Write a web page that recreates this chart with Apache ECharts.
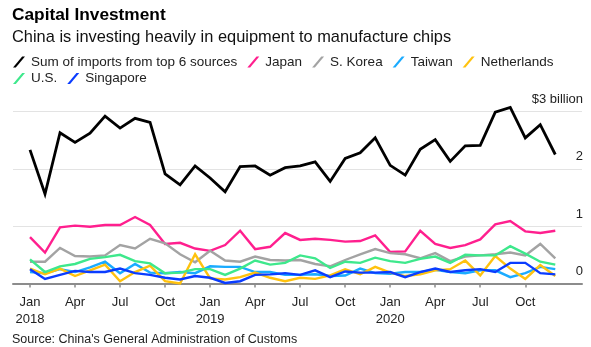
<!DOCTYPE html>
<html>
<head>
<meta charset="utf-8">
<script src="https://cdn.jsdelivr.net/npm/echarts@6/dist/echarts.min.js"></script>
<style>
html,body{margin:0;padding:0;background:#fff;}
#chart{width:591px;height:347px;}
</style>
</head>
<body>
<div id="chart"></div>
<script>
// Months Jan 2018 .. Dec 2020 (index 0..35)
const months = ['Jan 2018','Feb 2018','Mar 2018','Apr 2018','May 2018','Jun 2018','Jul 2018','Aug 2018','Sep 2018','Oct 2018','Nov 2018','Dec 2018',
  'Jan 2019','Feb 2019','Mar 2019','Apr 2019','May 2019','Jun 2019','Jul 2019','Aug 2019','Sep 2019','Oct 2019','Nov 2019','Dec 2019',
  'Jan 2020','Feb 2020','Mar 2020','Apr 2020','May 2020','Jun 2020','Jul 2020','Aug 2020','Sep 2020','Oct 2020','Nov 2020','Dec 2020'];

const total = [2.33,1.56,2.63,2.46,2.62,2.92,2.71,2.88,2.81,1.91,1.72,2.05,
  1.84,1.60,2.04,2.05,1.89,2.02,2.05,2.12,1.78,2.18,2.28,2.54,
  2.06,1.89,2.34,2.51,2.13,2.40,2.41,2.99,3.07,2.54,2.77,2.25];
const japan = [0.81,0.54,0.98,1.01,0.99,1.02,1.02,1.16,1.02,0.69,0.71,0.61,
  0.57,0.67,0.92,0.60,0.64,0.88,0.76,0.78,0.76,0.73,0.74,0.84,
  0.55,0.56,0.92,0.69,0.62,0.67,0.77,1.03,1.09,0.91,0.88,0.92];
const korea = [0.38,0.38,0.62,0.48,0.47,0.49,0.67,0.61,0.78,0.70,0.51,0.37,
  0.57,0.40,0.38,0.47,0.41,0.40,0.41,0.34,0.30,0.41,0.51,0.60,
  0.53,0.51,0.44,0.53,0.39,0.47,0.49,0.51,0.54,0.49,0.69,0.44];
const taiwan = [0.20,0.18,0.25,0.20,0.28,0.38,0.18,0.34,0.19,0.18,0.20,0.18,
  0.30,0.29,0.29,0.20,0.20,0.15,0.15,0.16,0.13,0.14,0.26,0.18,
  0.17,0.20,0.20,0.24,0.20,0.18,0.23,0.23,0.11,0.18,0.29,0.25];
const netherlands = [0.26,0.16,0.26,0.13,0.23,0.33,0.04,0.20,0.31,0.04,0.00,0.51,
  0.09,0.07,0.11,0.19,0.10,0.04,0.10,0.08,0.14,0.25,0.16,0.29,
  0.19,0.13,0.16,0.23,0.25,0.40,0.14,0.48,0.26,0.08,0.32,0.13];
const us = [0.42,0.20,0.30,0.34,0.43,0.46,0.50,0.39,0.35,0.18,0.19,0.25,
  0.25,0.15,0.26,0.40,0.33,0.36,0.49,0.44,0.27,0.38,0.36,0.45,
  0.39,0.36,0.43,0.47,0.36,0.50,0.49,0.49,0.65,0.52,0.38,0.33];
const singapore = [0.25,0.08,0.15,0.22,0.20,0.20,0.26,0.18,0.15,0.10,0.07,0.13,
  0.10,0.01,0.04,0.15,0.16,0.18,0.15,0.23,0.11,0.21,0.19,0.19,
  0.20,0.11,0.20,0.26,0.20,0.23,0.25,0.20,0.36,0.36,0.18,0.16];

const seriesNames = ['Sum of imports from top 6 sources','Japan','S. Korea','Taiwan','Netherlands','U.S.','Singapore'];
const seriesColors = ['#000000','#ff1f8e','#a3a3a3','#1aabff','#ffc20e','#3ee88c','#0a3cff'];
const seriesValues = [total, japan, korea, taiwan, netherlands, us, singapore];

const xTickIndex = [0,3,6,9,12,15,18,21,24,27,30,33];
const xTickLabels = ['Jan\n2018','Apr','Jul','Oct','Jan\n2019','Apr','Jul','Oct','Jan\n2020','Apr','Jul','Oct'];
const yTicks = [0,1,2,3];
const yTickLabels = ['0','1','2','$3 billion'];

const FONT = '"Liberation Sans", Arial, Helvetica, sans-serif';
const ICON = 'path://M0,11 L2.8,11 L12,0 L9.2,0 Z';

const chart = echarts.init(document.getElementById('chart'), null, {renderer:'canvas'});

const series = seriesNames.map((name, k) => ({
  name: name,
  type: 'line',
  data: seriesValues[k].map((v, i) => [i, v]),
  symbol: 'none',
  clip: false,
  color: seriesColors[k],
  lineStyle: {color: seriesColors[k], width: k === 0 ? 2.8 : 2.4, join: 'miter'},
  emphasis: {disabled: true},
  animation: false
}));

const legendCommon = {
  left: 13,
  icon: ICON,
  itemWidth: 12,
  itemHeight: 11,
  itemGap: 10,
  padding: 0,
  selectedMode: false,
  textStyle: {fontFamily: FONT, fontSize: 13.5, color: '#222', padding: [0,0,0,1]}
};

chart.setOption({
  animation: false,
  textStyle: {fontFamily: FONT},
  title: [
    {text: 'Capital Investment', left: 12, top: 7, padding: 0,
     textStyle: {fontFamily: FONT, fontSize: 17.3, fontWeight: 'bold', color: '#000'}},
    {text: 'China is investing heavily in equipment to manufacture chips', left: 12, top: 29, padding: 0,
     textStyle: {fontFamily: FONT, fontSize: 16.4, fontWeight: 'normal', color: '#111'}},
    {text: "Source: China's General Administration of Customs", left: 12, top: 333, padding: 0,
     textStyle: {fontFamily: FONT, fontSize: 12.5, fontWeight: 'normal', color: '#222'}}
  ],
  legend: [
    Object.assign({}, legendCommon, {top: 55, data: seriesNames.slice(0,5)}),
    Object.assign({}, legendCommon, {top: 71.5, data: seriesNames.slice(5)})
  ],
  grid: {left: 13, right: 9, top: 111.5, bottom: 63.5, containLabel: false},
  xAxis: {
    type: 'value',
    min: -1.133,
    max: 36.78,
    splitLine: {show: false},
    axisLine: {show: true, lineStyle: {color: '#8c8c8c', width: 2}},
    axisTick: {show: true, customValues: xTickIndex, length: 4, lineStyle: {color: '#8c8c8c', width: 1.5}},
    axisLabel: {
      customValues: xTickIndex,
      margin: 10,
      fontFamily: FONT, fontSize: 13, color: '#222', lineHeight: 17,
      formatter: function (v) { const j = xTickIndex.indexOf(Math.round(v)); return j >= 0 ? xTickLabels[j] : ''; }
    }
  },
  yAxis: {
    type: 'value',
    position: 'right',
    min: 0, max: 3, interval: 1,
    axisLine: {show: false},
    axisTick: {show: false},
    splitLine: {show: true, lineStyle: {color: '#e3e3e3', width: 1.2}},
    axisLabel: {
      inside: true,
      margin: -1,
      verticalAlign: 'bottom',
      padding: [0,0,5,0],
      fontFamily: FONT, fontSize: 13, color: '#222', lineHeight: 14,
      formatter: function (v) { const j = yTicks.indexOf(Math.round(v)); return j >= 0 ? yTickLabels[j] : ''; }
    }
  },
  series: series
});
</script>
</body>
</html>
